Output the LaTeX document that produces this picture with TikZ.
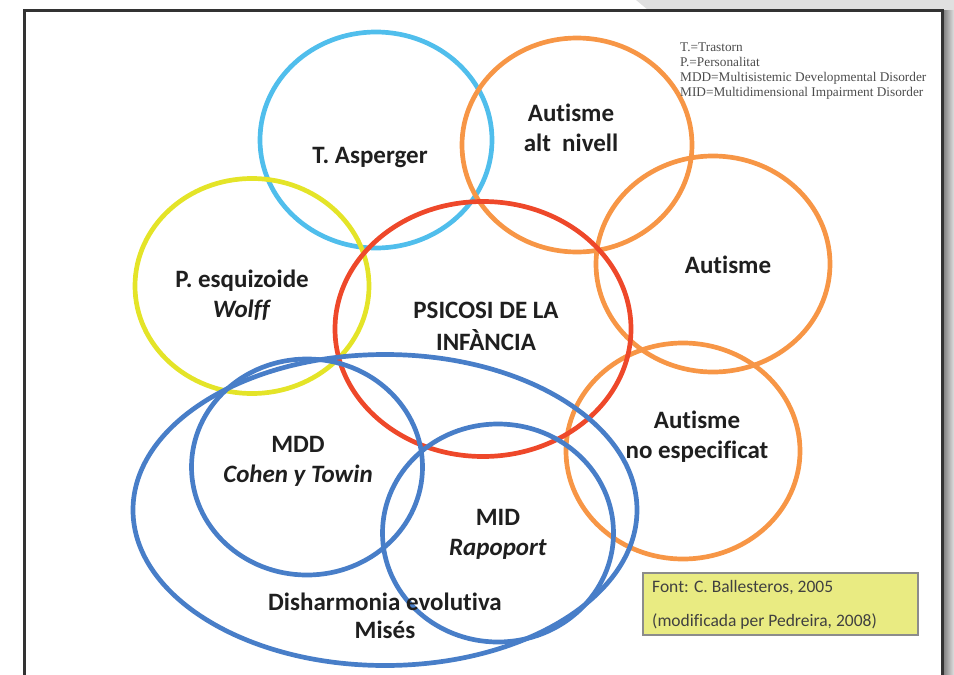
\documentclass[tikz,border=0pt]{standalone}
\usepackage{fontspec}
\setmainfont{Carlito}[RawFeature=-liga, RawFeature=-clig, RawFeature=-calt, RawFeature=-dlig]
\newfontfamily\legendfont{Liberation Serif}
\usetikzlibrary{shapes.geometric}

\definecolor{ringLightBlue}{RGB}{80,190,236}
\definecolor{ringOrange}{RGB}{247,150,70}
\definecolor{ringYellow}{RGB}{228,228,40}
\definecolor{ringRed}{RGB}{238,72,42}
\definecolor{ringBlue}{RGB}{72,126,200}
\definecolor{sourceFill}{RGB}{233,235,130}

\tikzstyle{ring}=[ellipse, draw, line width=4.7pt, inner sep=0pt]
\tikzstyle{ringText}=[align=center, font=\bfseries\fontsize{25}{30}\selectfont, text=black!88]
\tikzstyle{legendText}=[align=left, anchor=north west, inner sep=0pt, font=\legendfont\fontsize{13.3}{15}\selectfont, text=black!70]
\tikzstyle{sourceText}=[anchor=west, inner sep=0pt, font=\fontsize{17.5}{20}\selectfont, text=black!75]

\begin{document}
\begin{tikzpicture}[x=1pt, y=-1pt]

	\useasboundingbox (0,0) rectangle (954,675);
	\clip (0,0) rectangle (954,675);

	% Rahmen
	\fill[black!12] (636,0) -- (954,0) -- (954,675) -- (942,675) -- (942,10) -- (648,10) -- cycle;
	\shade[left color=black!55, right color=black!12] (942,10) rectangle (954,675);
	\draw[black!80, line width=3pt] (24,10) rectangle (942,700);

	% Kreise
	\node(asperger) at (376,140) [ring, draw=ringLightBlue, minimum width=232pt, minimum height=216pt] {};
	\node(altNivell) at (577,145) [ring, draw=ringOrange, minimum width=230pt, minimum height=214pt] {};
	\node(autisme) at (713,264) [ring, draw=ringOrange, minimum width=234pt, minimum height=216pt] {};
	\node(noEspec) at (683,451) [ring, draw=ringOrange, minimum width=234pt, minimum height=216pt] {};
	\node(esquizoide) at (252,286) [ring, draw=ringYellow, minimum width=234pt, minimum height=215pt] {};
	\node(psicosi) at (483,329) [ring, draw=ringRed, minimum width=296pt, minimum height=255pt] {};
	\node(disharmonia) at (385,510) [ring, draw=ringBlue, minimum width=504pt, minimum height=311pt] {};
	\node(mdd) at (307,467) [ring, draw=ringBlue, minimum width=231pt, minimum height=216pt] {};
	\node(mid) at (498,533) [ring, draw=ringBlue, minimum width=231pt, minimum height=218pt] {};

	% Beschriftungen
	\node(aspergerText) at (370,158) [ringText] {T. Asperger};
	\node(altNivellText) at (571,128) [ringText] {Autisme\\alt~ nivell};
	\node(autismeText) at (728,265) [ringText] {Autisme};
	\node(noEspecText) at (697,437) [ringText] {Autisme\\no especificat};
	\node(esquizoideText) at (242,295) [ringText] {P. esquizoide\\\textit{Wolff}};
	\node(psicosiText) at (486,326) [ringText, font=\bfseries\fontsize{25}{32}\selectfont] {PSICOSI DE LA\\INFÀNCIA};
	\node(mddText) at (298,461) [ringText] {MDD\\\textit{Cohen y Towin}};
	\node(midText) at (498,534) [ringText] {MID\\\textit{Rapoport}};
	\node(disharmoniaText) at (385,616) [ringText, font=\bfseries\fontsize{25}{28}\selectfont] {Disharmonia evolutiva\\Misés};

	% Legende
	\node(legend) at (680,43) [legendText] {T.=Trastorn\\P.=Personalitat\\MDD=Multisistemic Developmental Disorder\\MID=Multidimensional Impairment Disorder};

	% Quelle
	\node(source) at (780.5,604) [draw=black!45, line width=1.2pt, fill=sourceFill, minimum width=275pt, minimum height=62pt] {};
	\node(sourceTop) at (652,588) [sourceText] {Font: C. Ballesteros, 2005};
	\node(sourceBottom) at (652,622) [sourceText] {(modificada per Pedreira, 2008)};

\end{tikzpicture}
\end{document}
